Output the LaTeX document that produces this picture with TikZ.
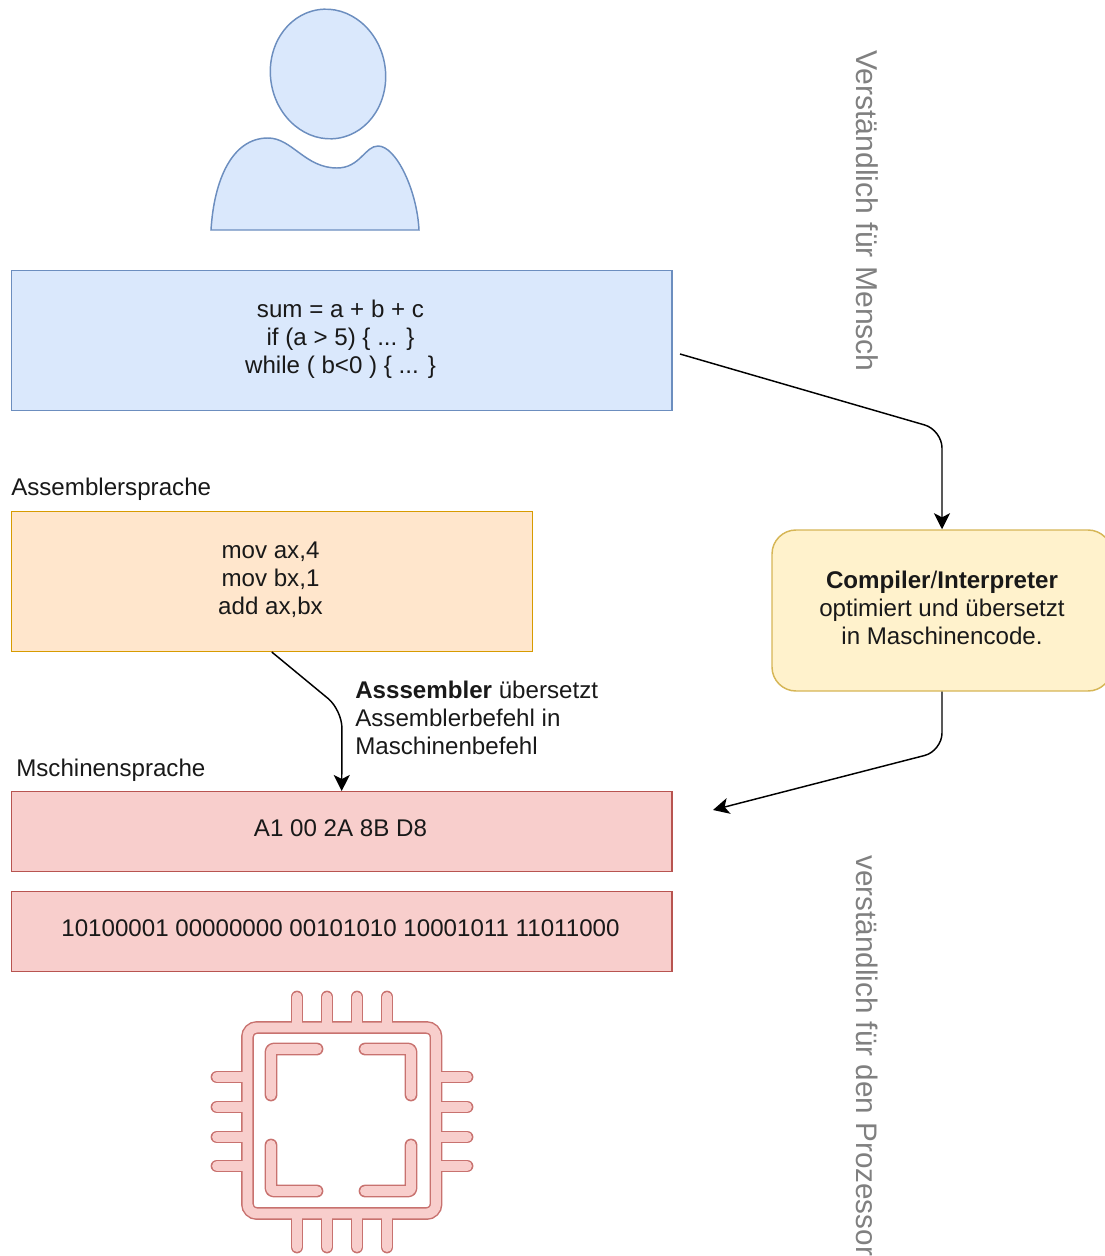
\documentclass[tikz,border=0pt]{standalone}
\usepackage{fontspec}
\setmainfont{Liberation Sans}
\usetikzlibrary{arrows.meta}
\tikzset{
  box/.style={draw=#1,line width=1.1pt,inner sep=0pt,align=center},
  label/.style={inner sep=0pt,font=\fontsize{18.1}{21}\selectfont,text=black!90},
  side/.style={inner sep=0pt,rotate=-90,font=\fontsize{22.6}{26}\selectfont,text=black!50},
  conn/.style={draw=black,line width=1.1pt,rounded corners=13.5pt,-{Stealth[length=12pt,width=12pt,inset=3pt]}},
}
\definecolor{bluef}{HTML}{DAE8FC}\definecolor{blues}{HTML}{6C8EBF}
\definecolor{orf}{HTML}{FFE6CC}\definecolor{ors}{HTML}{D79B00}
\definecolor{redf}{HTML}{F8CECC}\definecolor{reds}{HTML}{B85450}
\definecolor{yelf}{HTML}{FFF2CC}\definecolor{yels}{HTML}{D6B656}
\colorlet{chipline}{reds!75!redf}
\newcommand{\chipbody}{
  (247.5,1120) -- (247.5,1027.5) -- (436,1027.5) -- (436,1213.5) -- (247.5,1213.5) -- cycle
}
\newcommand{\chippins}{
  (297,1024) -- (297,997) (327,1024) -- (327,997) (357,1024) -- (357,997) (387,1024) -- (387,997)
  (297,1217) -- (297,1247) (327,1217) -- (327,1247) (357,1217) -- (357,1247) (387,1217) -- (387,1247)
  (244,1077) -- (217,1077) (244,1107) -- (217,1107) (244,1137) -- (217,1137) (244,1166) -- (217,1166)
  (440,1077) -- (467,1077) (440,1107) -- (467,1107) (440,1137) -- (467,1137) (440,1166) -- (467,1166)
}
\newcommand{\chipangles}{
  (317,1049) -- (271,1049) -- (271,1095)
  (365,1049) -- (411,1049) -- (411,1095)
  (271,1145) -- (271,1191) -- (317,1191)
  (411,1145) -- (411,1191) -- (365,1191)
}
\begin{document}
\begin{tikzpicture}[x=0.75pt,y=-0.75pt]
\useasboundingbox (0,0) rectangle (1105,1256);
\clip (0,0) rectangle (1105,1256);
% person
\draw[fill=bluef,draw=blues,line width=1.1pt,rotate around={9:(328,74)}] (328,74) ellipse [x radius=57.5,y radius=65];
\draw[fill=bluef,draw=blues,line width=1.1pt]
  (211,230) .. controls (214,180) and (232,138) .. (268,138)
  .. controls (292,138) and (305,168) .. (337,168)
  .. controls (360,168) and (365,146) .. (378,146)
  .. controls (396,146) and (417,190) .. (419,230) -- cycle;
% boxes
\node[box=blues,fill=bluef,minimum width=495.7pt,minimum height=105pt,anchor=north west] (src) at (10.5,270) {};
\node[label,align=center] (srct) at (340.5,339) {sum = a + b + c\\if (a > 5) \{ ... \}\\while ( b<0 ) \{ ... \}};
\node[box=ors,fill=orf,minimum width=390.75pt,minimum height=105pt,anchor=north west] (asm) at (10.5,510.5) {};
\node[label,align=center] (asmt) at (270.5,580) {mov ax,4\\mov bx,1\\add ax,bx};
\node[box=reds,fill=redf,minimum width=495.7pt,minimum height=60pt,anchor=north west] (hex) at (10.5,791) {};
\node[label] (hext) at (340.5,828) {A1 00 2A 8B D8};
\node[box=reds,fill=redf,minimum width=495.7pt,minimum height=60pt,anchor=north west] (bin) at (10.5,891) {};
\node[label] (bint) at (340.5,928) {10100001 00000000 00101010 10001011 11011000};
\node[box=yels,fill=yelf,rounded corners=18pt,minimum width=255pt,minimum height=120.75pt] (comp) at (942,610.5) {};
\node[label,align=center] (compt) at (942,608) {\textbf{Compiler}/\textbf{Interpreter}\\optimiert und übersetzt\\in Maschinencode.};
% labels
\node[label,anchor=west] (l1) at (11,489) {Assemblersprache};
\node[label,anchor=west] (l2) at (16,770) {Mschinensprache};
\node[label,anchor=north west,align=left] (l3) at (355,681) {\textbf{Asssembler} übersetzt\\Assemblerbefehl in\\Maschinenbefehl};
\node[side,anchor=center] (s1) at (867,211) {Verständlich für Mensch};
\node[side,anchor=west,font=\fontsize{22.25}{26}\selectfont] (s2) at (867,855) {verständlich für den Prozessor};
% connectors
\coordinate (a) at (680,354);
\coordinate (b) at (713,810);
\draw[conn] (a) -- (942,430) -- (comp.north);
\draw[conn] (comp.south) -- (942,751) -- (b);
\draw[conn] (asm.south) -- (342,710) -- (hex.north);
% chip
\draw[chipline,line width=9.6pt,line cap=round] \chippins;
\draw[chipline,line width=9.6pt,line cap=round,line join=round,rounded corners=2pt] \chipangles;
\draw[chipline,line width=9.6pt,rounded corners=7pt] \chipbody;
\draw[redf,line width=7.4pt,line cap=round] \chippins;
\draw[redf,line width=7.4pt,line cap=round,line join=round,rounded corners=2pt] \chipangles;
\draw[redf,line width=7.4pt,rounded corners=7pt] \chipbody;
\end{tikzpicture}
\end{document}
